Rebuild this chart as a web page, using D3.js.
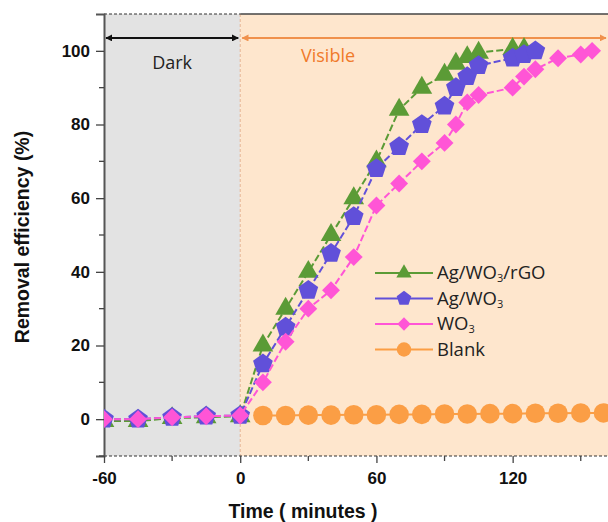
<!DOCTYPE html>
<html>
<head>
<meta charset="utf-8">
<script src="https://cdn.jsdelivr.net/npm/d3@7"></script>
<style>
  body { margin: 0; background: #fff; }
  svg { display: block; }
  .tick text { font-family: "Liberation Sans", Arial, sans-serif; font-weight: bold; font-size: 17px; fill: #111; }
</style>
</head>
<body>
<svg id="chart" width="608" height="522"></svg>
<script>
const W = 608, H = 522;
const svg = d3.select('#chart');

// data
const greenTime = [-60, -45, -30, -15, 0, 10, 20, 30, 40, 50, 60, 70, 80, 90, 95, 100, 105, 120, 125];
const greenVal  = [-0.5, -0.5, 0.3, 0.5, 0.8, 20, 30, 40, 50, 60, 70, 84, 90, 93.5, 96.5, 98.3, 99.5, 100.5, 100.5];
const blueTime  = [-60, -45, -30, -15, 0, 10, 20, 30, 40, 50, 60, 70, 80, 90, 95, 100, 105, 120, 125, 130];
const blueVal   = [0, 0, 0.5, 0.8, 1, 15, 25, 35, 45, 55, 68, 74, 80, 85, 90, 93, 96, 98, 99, 100];
const pinkTime  = [-60, -45, -30, -15, 0, 10, 20, 30, 40, 50, 60, 70, 80, 90, 95, 100, 105, 120, 125, 130, 140, 150, 155];
const pinkVal   = [0, 0, 0.5, 0.8, 1, 10, 21, 30, 35, 44, 58, 64, 70, 75, 80, 86, 88, 90, 93, 95, 98, 99, 100];
const blankTime = [10, 20, 30, 40, 50, 60, 70, 80, 90, 100, 110, 120, 130, 140, 150, 160];
const blankVal  = [1.0, 1.0, 1.1, 1.1, 1.2, 1.2, 1.3, 1.3, 1.4, 1.4, 1.5, 1.5, 1.6, 1.6, 1.7, 1.7];

const xTicks = [-60, 0, 60, 120];
const xMinor = [-30, 30, 90, 150];
const yTicks = [0, 20, 40, 60, 80, 100];
const yMinor = [-10, 10, 30, 50, 70, 90];

const series = [
  { name: 'Ag/WO', sub: '3', tail: '/rGO', t: greenTime, v: greenVal, color: '#5b9b36', shape: 'triangle' },
  { name: 'Ag/WO', sub: '3', tail: '', t: blueTime, v: blueVal, color: '#6150d9', shape: 'pentagon' },
  { name: ' WO', sub: '3', tail: '', t: pinkTime, v: pinkVal, color: '#ff55d6', shape: 'diamond' },
  { name: 'Blank', sub: '', tail: '', t: blankTime, v: blankVal, color: '#fb9e45', shape: 'circle' }
];

const plot = { left: 104, right: 608, top: 14, bottom: 456 };

const x = d3.scaleLinear().domain([-60, 162]).range([plot.left, plot.right]);
const y = d3.scaleLinear().domain([-10, 110]).range([plot.bottom, plot.top]);

// background regions
svg.append('rect')
  .attr('x', x(-60)).attr('y', plot.top)
  .attr('width', x(0) - x(-60)).attr('height', plot.bottom - plot.top)
  .attr('fill', '#e3e3e3');
svg.append('rect')
  .attr('x', x(0)).attr('y', plot.top)
  .attr('width', plot.right - x(0)).attr('height', plot.bottom - plot.top)
  .attr('fill', '#fee6cd');
svg.append('line')
  .attr('x1', x(0)).attr('x2', x(0)).attr('y1', plot.top).attr('y2', plot.bottom)
  .attr('stroke', '#e6b493').attr('stroke-width', 1).attr('stroke-dasharray', '3,2');

// frame
svg.append('line')
  .attr('x1', x(-60)).attr('x2', x(0)).attr('y1', plot.top).attr('y2', plot.top)
  .attr('stroke', '#333').attr('stroke-width', 1.2).attr('stroke-dasharray', '3,2');
svg.append('line')
  .attr('x1', x(0)).attr('x2', plot.right).attr('y1', plot.top).attr('y2', plot.top)
  .attr('stroke', '#444').attr('stroke-width', 1.5);
svg.append('line')
  .attr('x1', x(-60)).attr('x2', plot.right).attr('y1', plot.bottom).attr('y2', plot.bottom)
  .attr('stroke', '#333').attr('stroke-width', 1.2).attr('stroke-dasharray', '3,2');

// axes
const yAxis = svg.append('g')
  .attr('transform', 'translate(' + plot.left + ',0)')
  .call(d3.axisLeft(y).tickValues(yTicks).tickFormat(d => String(d)).tickSize(8).tickPadding(6));
yAxis.select('.domain').attr('stroke', '#555').attr('stroke-width', 2);
yAxis.selectAll('.tick line').attr('stroke', '#444').attr('stroke-width', 1.3);
yAxis.selectAll('.yminor').data(yMinor).enter().append('line')
  .attr('x1', -5).attr('x2', 0).attr('y1', d => y(d)).attr('y2', d => y(d))
  .attr('stroke', '#444').attr('stroke-width', 1.3);

const xAxis = svg.append('g')
  .attr('transform', 'translate(0,' + plot.bottom + ')')
  .call(d3.axisBottom(x).tickValues(xTicks).tickFormat(d => String(d)).tickSize(7).tickPadding(9));
xAxis.select('.domain').remove();
xAxis.selectAll('.tick line').attr('stroke', '#444').attr('stroke-width', 1.3);
xAxis.selectAll('.xminor').data(xMinor).enter().append('line')
  .attr('x1', d => x(d)).attr('x2', d => x(d)).attr('y1', 0).attr('y2', 5)
  .attr('stroke', '#444').attr('stroke-width', 1.3);

// axis titles
svg.append('text')
  .attr('transform', 'translate(29,' + ((plot.top + plot.bottom) / 2 + 2) + ') rotate(-90)')
  .attr('text-anchor', 'middle')
  .style('font-family', '"Liberation Sans", Arial, sans-serif')
  .style('font-weight', 'bold').style('font-size', '19.5px').attr('fill', '#111')
  .text('Removal efficiency (%)');
svg.append('text')
  .attr('x', 303).attr('y', 518)
  .attr('text-anchor', 'middle')
  .style('font-family', '"Liberation Sans", Arial, sans-serif')
  .style('font-weight', 'bold').style('font-size', '19.5px').attr('fill', '#111')
  .text('Time ( minutes )');

// arrows
const defs = svg.append('defs');
function marker(id, color, reverse) {
  defs.append('marker')
    .attr('id', id).attr('viewBox', '0 0 10 10')
    .attr('refX', reverse ? 1 : 9).attr('refY', 5)
    .attr('markerWidth', 7).attr('markerHeight', 7)
    .attr('markerUnits', 'userSpaceOnUse')
    .attr('orient', 'auto')
    .append('path')
    .attr('d', reverse ? 'M10,0 L0,5 L10,10 Z' : 'M0,0 L10,5 L0,10 Z')
    .attr('fill', color);
}
marker('blkEnd', '#111', false);
marker('blkStart', '#111', true);
marker('orgEnd', '#f0914c', false);
marker('orgStart', '#f0914c', true);

svg.append('line')
  .attr('x1', x(-60) + 2).attr('x2', x(0) - 2).attr('y1', y(103.5)).attr('y2', y(103.5))
  .attr('stroke', '#111').attr('stroke-width', 2)
  .attr('marker-start', 'url(#blkStart)').attr('marker-end', 'url(#blkEnd)');
svg.append('line')
  .attr('x1', x(0) + 2).attr('x2', plot.right - 2).attr('y1', y(103.5)).attr('y2', y(103.5))
  .attr('stroke', '#f0914c').attr('stroke-width', 2)
  .attr('marker-start', 'url(#orgStart)').attr('marker-end', 'url(#orgEnd)');

svg.append('text')
  .attr('x', (x(-60) + x(0)) / 2).attr('y', 69)
  .attr('text-anchor', 'middle')
  .style('font-family', '"Open Sans", "Noto Sans", sans-serif')
  .style('font-size', '18px').attr('fill', '#222')
  .text('Dark');
svg.append('text')
  .attr('x', 301).attr('y', 62)
  .style('font-family', '"Open Sans", "Noto Sans", sans-serif')
  .style('font-size', '18px').attr('fill', '#f07a2a')
  .text('Visible');

// marker shapes
const pentagon = {
  draw(ctx, size) {
    const r = Math.sqrt(size / 2.378);
    for (let i = 0; i < 5; i++) {
      const a = -Math.PI / 2 + i * 2 * Math.PI / 5;
      const px = r * Math.cos(a), py = r * Math.sin(a);
      if (i === 0) ctx.moveTo(px, py); else ctx.lineTo(px, py);
    }
    ctx.closePath();
  }
};
function shapePath(shape, size) {
  if (shape === 'triangle') return d3.symbol(d3.symbolTriangle, size)();
  if (shape === 'pentagon') return d3.symbol(pentagon, size)();
  if (shape === 'diamond') return d3.symbol(d3.symbolSquare, size)();
  return d3.symbol(d3.symbolCircle, size)();
}
const sizes = { triangle: 185, pentagon: 255, diamond: 160, circle: 300 };
const rot = s => s === 'diamond' ? ' rotate(45)' : '';

const clip = defs.append('clipPath').attr('id', 'plotClip');
clip.append('rect').attr('x', plot.left).attr('y', 0).attr('width', plot.right - plot.left).attr('height', plot.bottom);

const line = d3.line().x(d => x(d.t)).y(d => y(d.v));

const layer = svg.append('g').attr('clip-path', 'url(#plotClip)');
// blank first, then green, blue, pink on top
const order = [3, 0, 1, 2];
order.forEach(i => {
  const s = series[i];
  const pts = s.t.map((t, k) => ({ t: t, v: s.v[k] }));
  layer.append('path')
    .attr('d', line(pts))
    .attr('fill', 'none')
    .attr('stroke', s.color)
    .attr('stroke-width', 2)
    .attr('stroke-dasharray', s.shape === 'circle' ? null : '7,3');
  layer.selectAll('.m' + i).data(pts).enter().append('path')
    .attr('d', shapePath(s.shape, sizes[s.shape]))
    .attr('transform', d => 'translate(' + x(d.t) + ',' + y(d.v) + ')' + rot(s.shape))
    .attr('fill', s.color);
});

// legend
const lg = svg.append('g').attr('transform', 'translate(375,273)');
series.forEach((s, i) => {
  const g = lg.append('g').attr('transform', 'translate(0,' + (i * 25.5) + ')');
  g.append('line').attr('x1', 0).attr('x2', 58).attr('y1', 0).attr('y2', 0)
    .attr('stroke', s.color).attr('stroke-width', 2);
  g.append('path')
    .attr('d', shapePath(s.shape, sizes[s.shape] * 0.55))
    .attr('transform', 'translate(29,0)' + rot(s.shape))
    .attr('fill', s.color);
  const t = g.append('text')
    .attr('x', 62).attr('y', 6)
    .style('font-family', '"Open Sans", "Noto Sans", sans-serif')
    .style('font-size', '18.5px').attr('fill', '#222');
  t.append('tspan').text(s.name);
  if (s.sub) t.append('tspan').attr('dy', 3).style('font-size', '11px').text(s.sub);
  if (s.tail) t.append('tspan').attr('dy', -3).text(s.tail);
});
</script>
</body>
</html>
